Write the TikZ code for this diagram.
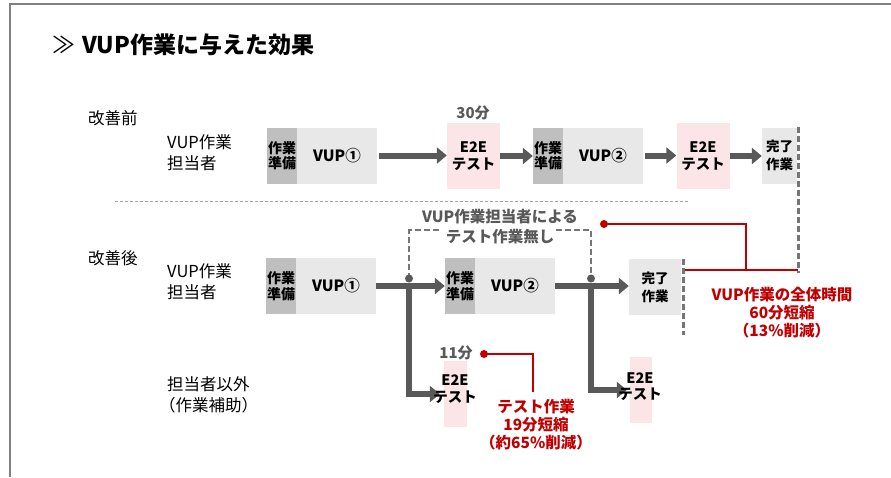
\documentclass[tikz,border=0pt]{standalone}
\usepackage{fontspec}
\setmainfont{Noto Sans CJK JP}
\usetikzlibrary{arrows.meta}
\definecolor{prepgray}{HTML}{BFBFBF}
\definecolor{boxgray}{HTML}{E8E8E8}
\definecolor{pinkbg}{HTML}{FBE5E7}
\definecolor{arrgray}{HTML}{595959}
\definecolor{dashgray}{HTML}{767676}
\definecolor{accred}{HTML}{C00000}
\definecolor{framegray}{HTML}{808080}
\definecolor{sepgray}{HTML}{A6A6A6}
\newcommand\fsz[2]{\fontsize{#1}{#2}\selectfont}
\tikzset{
  prepbox/.style={fill=prepgray, minimum width=30pt, minimum height=56pt, inner sep=0pt, align=center, font=\bfseries\fsz{14}{15.5}},
  workbox/.style={fill=boxgray, minimum width=80pt, minimum height=56pt, inner sep=0pt, align=center, font=\bfseries\fsz{15.5}{18}},
  testbox/.style={fill=pinkbg, minimum width=53pt, minimum height=66pt, inner sep=0pt, align=center, font=\bfseries\fsz{14.5}{17}},
  donebox/.style={fill=boxgray, minimum height=56pt, inner sep=0pt, align=center, font=\bfseries\fsz{13.5}{18}},
  slimbox/.style={fill=pinkbg, minimum height=66pt, inner sep=0pt},
  boxtxt/.style={inner sep=0pt, align=center, font=\bfseries\fsz{14.5}{16.5}},
  flow/.style={draw=arrgray, line width=6pt, -{Triangle[length=10pt,width=16pt]}},
  dline/.style={draw=dashgray, line width=2.6pt, dash pattern=on 6pt off 3pt},
  redline/.style={draw=accred, line width=2.2pt},
  lbl/.style={inner sep=0pt, anchor=west, align=left, font=\fsz{16.5}{21}},
  gtext/.style={inner sep=0pt, text=arrgray, font=\bfseries\fsz{15}{20}},
  redtxt/.style={inner sep=0pt, text=accred, align=center, font=\bfseries\fsz{15.5}{18}},
}
\begin{document}
\begin{tikzpicture}[x=1pt,y=-1pt]
\useasboundingbox (0,0) rectangle (891,477);
% frame
\coordinate (fA) at (10,477); \coordinate (fB) at (10,4); \coordinate (fC) at (891,4);
\draw[framegray, line width=1.5pt] (fA) -- (fB) -- (fC);
% title
\node[inner sep=0pt, font=\fsz{23}{28}] (chev) at (63.5,45) {≫};
\node[inner sep=0pt, anchor=west, font=\bfseries\fsz{23}{28}] (title) at (82,45) {VUP作業に与えた効果};
% left labels
\node[lbl] (before) at (88,118) {改善前};
\node[lbl] (who1) at (167,153) {VUP作業\\担当者};
\node[lbl] (after) at (88,258) {改善後};
\node[lbl] (who2) at (167,282) {VUP作業\\担当者};
\node[lbl] (who3) at (167,395) {担当者以外\\\hspace*{-8pt}（作業補助）};
% separator
\coordinate (sepL) at (115,201); \coordinate (sepR) at (690,201);
\draw[sepgray, line width=1pt, dash pattern=on 3pt off 2pt] (sepL) -- (sepR);
% before row
\node[prepbox] (p1) at (282,155.5) {作業\\準備};
\node[workbox] (v1) at (337,155.5) {VUP①};
\node[testbox] (t1) at (473.5,156) {E2E\\テスト};
\node[gtext] (m30) at (473,113) {30分};
\node[prepbox] (p2) at (548,155.5) {作業\\準備};
\node[workbox] (v2) at (603,155.5) {VUP②};
\node[testbox] (t2) at (703,156) {E2E\\テスト};
\node[donebox, minimum width=35pt] (d1) at (779.5,155.5) {完了\\作業};
\draw[flow, shorten <=2pt] (v1.east) -- (v1.east -| t1.west);
\draw[flow] (t1.east) -- (t1.east -| p2.west);
\draw[flow, shorten <=2pt] (v2.east) -- (v2.east -| t2.west);
\draw[flow] (t2.east) -- (t2.east -| d1.west);
\draw[dline] ([xshift=1.5pt]d1.north east) -- ++(0,146);
% after row
\node[prepbox] (p3) at (281,286) {作業\\準備};
\node[workbox] (v3) at (336,286) {VUP①};
\node[prepbox] (p4) at (460,286) {作業\\準備};
\node[workbox] (v4) at (515,286) {VUP②};
\node[donebox, minimum width=52pt] (d2) at (655,287) {完了\\作業};
\node[slimbox, minimum width=23pt] (e3) at (455.5,394) {};
\node[slimbox, minimum width=22pt] (e4) at (641,390) {};
\coordinate (j1) at (409,286); \coordinate (j2) at (591,286);
\draw[flow] (v3.east) -- (v3.east -| p4.west);
\draw[flow] (v4.east) -- (v4.east -| d2.west);
\draw[flow, shorten >=4pt] (j1) |- (e3.west);
\draw[flow, shorten >=3pt] (j2) |- (e4.west);
\node[boxtxt] (e3t) at (455,389) {E2E\\テスト};
\node[boxtxt] (e4t) at (640,386.5) {E2E\\テスト};
% dashed bracket
\coordinate (k1) at (409,278.5); \coordinate (k2) at (591,278.5);
\coordinate (b1) at (409,230); \coordinate (b2) at (591,230);
\coordinate (g1) at (441,230); \coordinate (g2) at (556,230);
\draw[dline] (k1) -- (b1) -- (g1);
\draw[dline] (g2) -- (b2) -- (k2);
\fill[arrgray] (k1) circle (4pt);
\fill[arrgray] (k2) circle (4pt);
\node[gtext, align=center, font=\bfseries\fsz{15.5}{20}] (note) at (500,227) {VUP作業担当者による\\テスト作業無し};
\draw[dline] ([xshift=2pt]d2.north east) -- ++(0,76);
% red annotations
\coordinate (r0) at (685,270); \coordinate (r1) at (798,270);
\coordinate (r2) at (746,270); \coordinate (r3) at (604,224);
\draw[redline] (r0) -- (r1);
\draw[redline] (r2) |- (r3);
\fill[accred] (r3) circle (4pt);
\node[redtxt] (sum) at (782,312.5) {VUP作業の全体時間\\60分短縮\\（13\%削減）};
\node[gtext] (m11) at (456,353) {11分};
\coordinate (s0) at (484,354); \coordinate (s1) at (533,392);
\draw[redline] (s0) -| (s1);
\fill[accred] (s0) circle (4pt);
\node[redtxt] (sum2) at (536,424.5) {テスト作業\\19分短縮\\（約65\%削減）};
\end{tikzpicture}
\end{document}
